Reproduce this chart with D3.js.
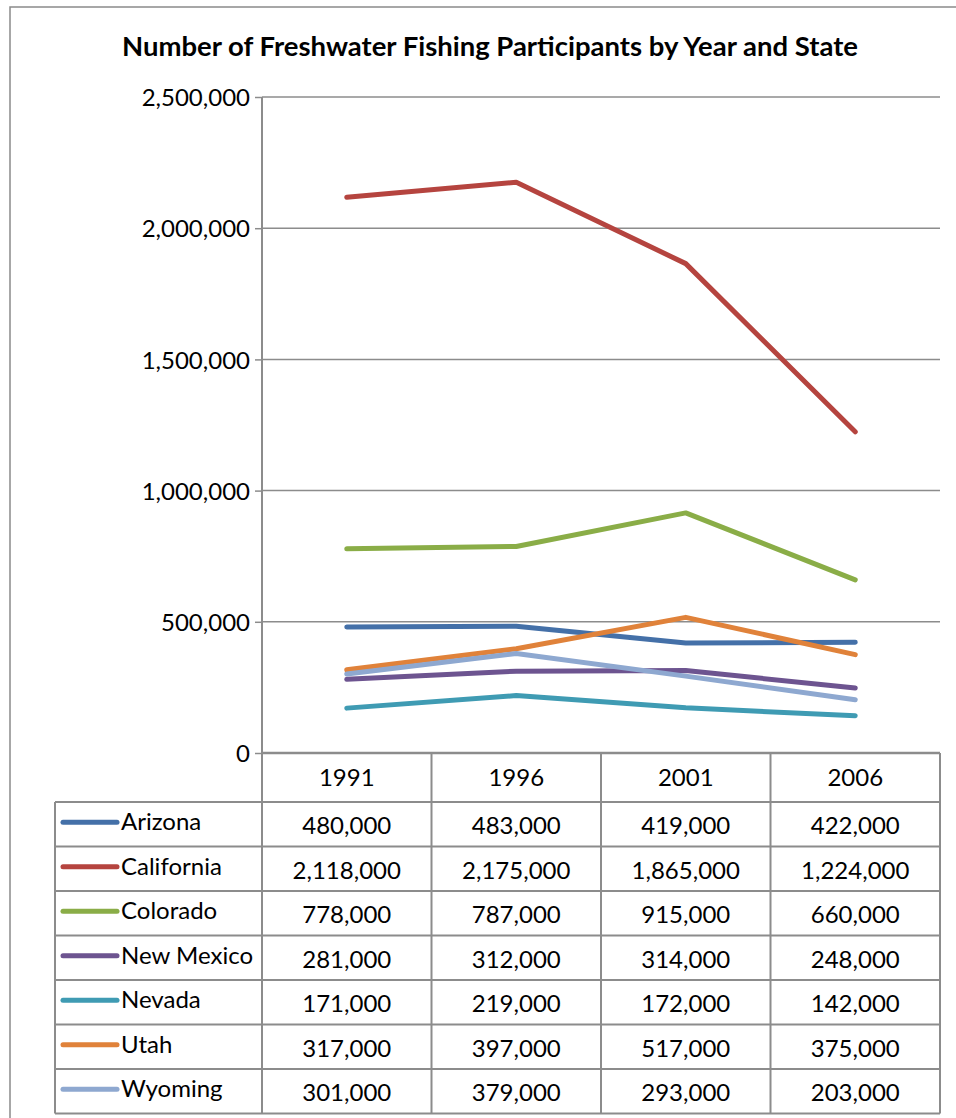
<!DOCTYPE html>
<html>
<head>
<meta charset="utf-8">
<script src="https://cdn.jsdelivr.net/npm/d3@7"></script>
<style>
  body { margin: 0; background: #fff; }
  text { font-family: Lato, "Liberation Sans", sans-serif; fill: #000; }
</style>
</head>
<body>
<div id="chart"></div>
<script>
var years = ["1991", "1996", "2001", "2006"];
var states = ["Arizona", "California", "Colorado", "New Mexico", "Nevada", "Utah", "Wyoming"];
var colors = ["#4470a8", "#b5443f", "#8aad47", "#6d5490", "#3f9bb3", "#e0823a", "#8ea8d0"];
var arizona = [480000, 483000, 419000, 422000];
var california = [2118000, 2175000, 1865000, 1224000];
var colorado = [778000, 787000, 915000, 660000];
var newMexico = [281000, 312000, 314000, 248000];
var nevada = [171000, 219000, 172000, 142000];
var utah = [317000, 397000, 517000, 375000];
var wyoming = [301000, 379000, 293000, 203000];
var yTicks = [0, 500000, 1000000, 1500000, 2000000, 2500000];

var series = [arizona, california, colorado, newMexico, nevada, utah, wyoming].map(function (v, i) {
  return { name: states[i], color: colors[i], values: v };
});

var width = 956,
  height = 1118,
  margin = { left: 262, right: 16, top: 97, bottom: 365 },
  plotW = width - margin.left - margin.right,
  plotH = height - margin.top - margin.bottom,
  rowH = 44.5,
  headH = 49,
  legendLeft = 55 - margin.left,
  gray = "#8c8c8c",
  fs = "24px";

var svg = d3.select("#chart").append("svg")
  .attr("width", width)
  .attr("height", height);

// outer frame (runs off the right and bottom edges)
svg.append("rect")
  .attr("x", 10).attr("y", 7)
  .attr("width", 1000).attr("height", 1200)
  .attr("fill", "none").attr("stroke", "#8a8a8a").attr("stroke-width", 1.5);

var title = svg.append("text")
  .attr("x", 490).attr("y", 56)
  .attr("text-anchor", "middle")
  .style("font-weight", "bold")
  .style("font-size", "22px")
  .text("Number of Freshwater Fishing Participants by Year and State");
// squeeze to the width of the original title
var tw = title.node().getComputedTextLength();
title.style("font-size", (22 * 736 / tw) + "px");

var chart = svg.append("g")
  .attr("transform", "translate(" + margin.left + "," + margin.top + ")");

var x = d3.scaleBand().domain(years).range([0, plotW]);
var y = d3.scaleLinear().domain([0, 2500000]).range([plotH, 0]);

// gridlines
chart.append("g").selectAll("line")
  .data(yTicks)
  .enter().append("line")
  .attr("x1", 0).attr("x2", plotW)
  .attr("y1", function (d) { return y(d); })
  .attr("y2", function (d) { return y(d); })
  .attr("stroke", gray)
  .attr("stroke-width", function (d) { return d === 0 ? 2.5 : 1.5; });

var yAxis = chart.append("g")
  .call(d3.axisLeft(y).tickValues(yTicks).tickSize(7).tickPadding(5).tickFormat(d3.format(",")));
yAxis.select(".domain").remove();
yAxis.selectAll("line").attr("stroke", gray).attr("stroke-width", 1.5);
yAxis.selectAll("text").style("font-size", fs).attr("dy", "0.36em");

// lines
var line = d3.line()
  .x(function (d, i) { return x(years[i]) + x.bandwidth() / 2; })
  .y(function (d) { return y(d); });

chart.append("g").selectAll("path")
  .data(series)
  .enter().append("path")
  .attr("d", function (d) { return line(d.values); })
  .attr("fill", "none")
  .attr("stroke", function (d) { return d.color; })
  .attr("stroke-width", 5)
  .attr("stroke-linecap", "round")
  .attr("stroke-linejoin", "round");

// data table
var table = chart.append("g").attr("transform", "translate(0," + plotH + ")");
var tableBottom = headH + rowH * states.length;

table.selectAll(".head")
  .data(years)
  .enter().append("text")
  .attr("class", "head")
  .attr("x", function (d) { return x(d) + x.bandwidth() / 2; })
  .attr("y", headH / 2 + 8)
  .attr("text-anchor", "middle")
  .style("font-size", fs)
  .text(function (d) { return d; });

var rows = table.selectAll(".row")
  .data(series)
  .enter().append("g")
  .attr("class", "row")
  .attr("transform", function (d, i) { return "translate(0," + (headH + rowH * i) + ")"; });

rows.append("line")
  .attr("x1", legendLeft + 8).attr("x2", legendLeft + 62)
  .attr("y1", rowH / 2 - 2).attr("y2", rowH / 2 - 2)
  .attr("stroke", function (d) { return d.color; })
  .attr("stroke-width", 5)
  .attr("stroke-linecap", "round");

rows.append("text")
  .attr("x", legendLeft + 66)
  .attr("y", rowH / 2 + 6)
  .style("font-size", fs)
  .text(function (d) { return d.name; });

rows.selectAll(".val")
  .data(function (d) { return d.values; })
  .enter().append("text")
  .attr("class", "val")
  .attr("x", function (d, i) { return x(years[i]) + x.bandwidth() / 2; })
  .attr("y", rowH / 2 + 10)
  .attr("text-anchor", "middle")
  .style("font-size", fs)
  .text(function (d) { return d3.format(",")(d); });

// table borders
var hLines = d3.range(states.length + 1).map(function (i) { return headH + rowH * i; });
table.selectAll(".hl")
  .data(hLines)
  .enter().append("line")
  .attr("x1", legendLeft).attr("x2", plotW)
  .attr("y1", function (d) { return d; }).attr("y2", function (d) { return d; })
  .attr("stroke", gray).attr("stroke-width", 2);

var vLines = [0].concat(years.map(function (d) { return x(d) + x.bandwidth(); }));
table.selectAll(".vl")
  .data(vLines)
  .enter().append("line")
  .attr("x1", function (d) { return d; }).attr("x2", function (d) { return d; })
  .attr("y1", 0).attr("y2", tableBottom)
  .attr("stroke", gray).attr("stroke-width", 2);

table.append("line")
  .attr("x1", legendLeft).attr("x2", legendLeft)
  .attr("y1", headH).attr("y2", tableBottom)
  .attr("stroke", gray).attr("stroke-width", 2);

// y axis line through the plot
chart.append("line")
  .attr("x1", 0).attr("x2", 0)
  .attr("y1", 0).attr("y2", plotH)
  .attr("stroke", gray).attr("stroke-width", 2);
</script>
</body>
</html>
